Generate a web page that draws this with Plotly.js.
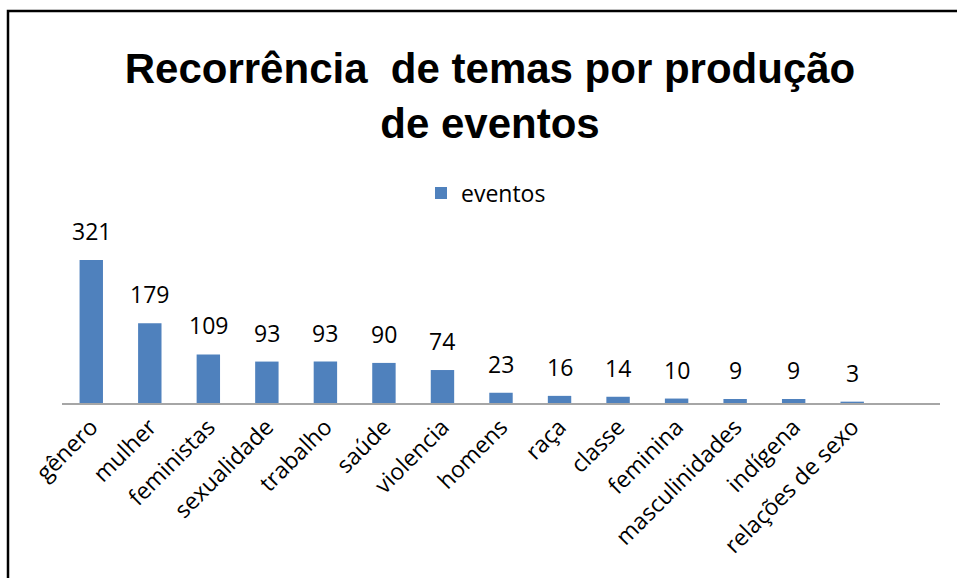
<!DOCTYPE html>
<html>
<head>
<meta charset="utf-8">
<script src="https://cdn.plot.ly/plotly-3.0.1.min.js"></script>
<style>html,body{margin:0;padding:0;background:#fff;}#chart{width:957px;height:578px;}</style>
</head>
<body>
<div id="chart"></div>
<script>
const categories = ["gênero","mulher","feministas","sexualidade","trabalho","saúde","violencia","homens","raça","classe","feminina","masculinidades","indígena","relações de sexo"];
const eventos = [321,179,109,93,93,90,74,23,16,14,10,9,9,3];
const seriesName = "eventos";
const titleText = "Recorrência  de temas por produção<br>de eventos";

const W = 957, H = 578;
const plotL = 62, plotR = 940, plotT = 225, plotB = 403;
const pw = plotR - plotL, ph = plotB - plotT;
const px = v => (v - plotL) / pw;
const py = v => (plotB - v) / ph;

const labelFont = {family: "Open Sans, sans-serif", size: 23, color: "#000"};

const annotations = categories.map((c, i) => ({
  x: c, y: eventos[i], xref: "x", yref: "y",
  text: String(eventos[i]), showarrow: false,
  yanchor: "bottom", yshift: 11, font: labelFont
}));

const trace = {
  type: "bar", x: categories, y: eventos, name: seriesName,
  marker: {color: "#4f81bd"}, showlegend: true
};

const layout = {
  width: W, height: H,
  margin: {l: plotL, r: W - plotR, t: plotT, b: H - plotB, pad: 0},
  paper_bgcolor: "#fff", plot_bgcolor: "#fff",
  title: {
    text: titleText, xref: "container", yref: "container",
    x: 490 / W, xanchor: "center", y: 1 - 83 / H, yanchor: "top",
    font: {family: "Liberation Sans, Arial, sans-serif", size: 42, color: "#000", weight: "bold"}
  },
  showlegend: true,
  legend: {
    orientation: "h", x: px(421), xanchor: "left", y: py(193), yanchor: "middle",
    font: labelFont, bgcolor: "rgba(0,0,0,0)"
  },
  bargap: 0.6,
  xaxis: {
    type: "category", range: [-0.5, 14.5], tickangle: -45,
    showline: true, linecolor: "#a6a6a6", linewidth: 1.5,
    ticks: "", showgrid: false, zeroline: false, tickfont: labelFont, automargin: false
  },
  yaxis: {
    range: [0, ph / (143 / 321)], visible: false, showgrid: false, zeroline: false, fixedrange: true
  },
  annotations: annotations,
  shapes: [{
    type: "rect", xref: "paper", yref: "paper",
    x0: px(8), x1: px(1000), y0: py(640), y1: py(11),
    line: {color: "#000", width: 2.5}, fillcolor: "rgba(0,0,0,0)", layer: "above"
  }]
};

Plotly.newPlot("chart", [trace], layout, {displayModeBar: false, staticPlot: true});
</script>
</body>
</html>
